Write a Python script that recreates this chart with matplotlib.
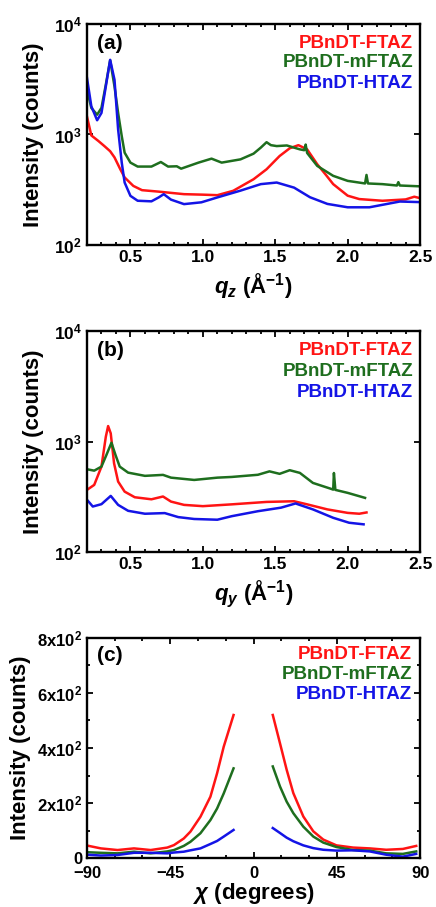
import numpy as np
import matplotlib
matplotlib.use('Agg')
import matplotlib.pyplot as plt
from matplotlib.ticker import MultipleLocator, NullLocator, FuncFormatter, LogLocator

RED = '#ff1414'
GREEN = '#1e6e1e'
BLUE = '#1414e6'
NAMES = ['PBnDT-FTAZ', 'PBnDT-mFTAZ', 'PBnDT-HTAZ']

# (a) out-of-plane line cuts
qz_ftaz = [0.20, 0.23, 0.28, 0.32, 0.36, 0.39, 0.43, 0.46, 0.52, 0.58, 0.69, 0.87, 1.00, 1.10,
           1.21, 1.35, 1.44, 1.53, 1.60, 1.66, 1.72, 1.79, 1.85, 1.90, 2.00, 2.08, 2.24, 2.40,
           2.46, 2.50]
i_ftaz_z = [1450, 980, 870, 785, 705, 620, 484, 408, 342, 313, 304, 288, 285, 282,
            309, 393, 484, 638, 750, 800, 733, 537, 430, 355, 279, 260, 251, 258,
            273, 265]

qz_mftaz = [0.20, 0.23, 0.27, 0.30, 0.33, 0.36, 0.39, 0.415, 0.44, 0.46, 0.50, 0.55, 0.645,
            0.71, 0.76, 0.82, 0.85, 0.97, 1.06, 1.13, 1.26, 1.35, 1.40, 1.44, 1.47, 1.51,
            1.58, 1.67, 1.70, 1.71, 1.72, 1.79, 1.90, 2.00, 2.12, 2.13, 2.14, 2.24, 2.34,
            2.35, 2.36, 2.50]
i_mftaz_z = [2540, 1740, 1510, 1740, 2820, 4700, 2720, 1567, 966, 684, 556, 512, 512,
             563, 512, 515, 490, 556, 604, 556, 595, 670, 760, 851, 800, 785,
             795, 733, 720, 810, 680, 519, 422, 380, 360, 430, 360, 355, 345,
             370, 345, 339]

qz_htaz = [0.20, 0.23, 0.27, 0.30, 0.33, 0.36, 0.39, 0.415, 0.44, 0.46, 0.50, 0.55, 0.645,
           0.695, 0.73, 0.78, 0.87, 0.99, 1.10, 1.26, 1.40, 1.51, 1.63, 1.74, 1.86, 2.00,
           2.15, 2.36, 2.50]
i_htaz_z = [3250, 1800, 1345, 1567, 2720, 4740, 3130, 1110, 556, 367, 278, 251, 248,
            269, 288, 257, 234, 243, 269, 310, 355, 367, 330, 270, 235, 219,
            219, 247, 244]

# (b) in-plane line cuts
qy_ftaz = [0.20, 0.25, 0.30, 0.33, 0.346, 0.364, 0.387, 0.415, 0.46, 0.53, 0.645, 0.725,
           0.78, 0.87, 1.00, 1.20, 1.44, 1.63, 1.72, 1.86, 2.00, 2.08, 2.13]
i_ftaz_y = [365, 405, 593, 1104, 1380, 1186, 635, 434, 352, 313, 300, 318,
            286, 267, 260, 270, 284, 288, 270, 243, 226, 222, 228]

qy_mftaz = [0.20, 0.25, 0.30, 0.334, 0.369, 0.397, 0.426, 0.484, 0.60, 0.725, 0.78, 0.94,
            1.10, 1.20, 1.38, 1.46, 1.53, 1.60, 1.67, 1.76, 1.88, 1.90, 1.905, 1.915,
            2.00, 2.12]
i_mftaz_y = [561, 545, 593, 755, 975, 755, 593, 523, 489, 499, 471, 449,
             471, 478, 500, 537, 510, 550, 520, 422, 375, 367, 519, 365,
             343, 309]

qy_htaz = [0.20, 0.24, 0.30, 0.364, 0.415, 0.484, 0.60, 0.737, 0.83, 0.94, 1.10, 1.20,
           1.38, 1.54, 1.64, 1.76, 1.90, 2.01, 2.11]
i_htaz_y = [297, 258, 271, 322, 267, 236, 222, 225, 207, 199, 196, 211,
            234, 252, 275, 243, 204, 184, 178]

# (c) pole figures, two branches around chi = 0
chi_left = [-89.7, -82.5, -73.5, -64.6, -55.6, -46.6, -43.0, -37.7, -34.1, -28.7, -23.3,
            -19.7, -16.1, -10.8]
chi_right = [10.4, 14.3, 17.9, 21.5, 26.9, 32.3, 37.7, 44.8, 53.8, 62.8, 71.7, 80.7, 87.9]

ftaz_left = [45, 35, 29, 35, 29, 38, 47, 71, 96, 150, 223, 308, 405, 520]
mftaz_left = [21, 19, 17, 23, 17, 24, 29, 44, 59, 90, 138, 180, 235, 326]
htaz_left = [12, 9, 11, 19, 19, 17, 20, 23, 28, 35, 51, 62, 78, 102]

ftaz_right = [520, 417, 321, 236, 151, 97, 67, 46, 38, 35, 30, 33, 44]
mftaz_right = [333, 260, 205, 163, 114, 78, 56, 40, 29, 27, 17, 15, 24]
htaz_right = [109, 91, 74, 61, 46, 36, 30, 27, 28, 24, 12, 5, 15]

plt.rcParams['font.family'] = ['Liberation Sans', 'DejaVu Sans']
plt.rcParams['font.weight'] = 'bold'
plt.rcParams['mathtext.fontset'] = 'custom'
plt.rcParams['mathtext.it'] = 'Liberation Sans:italic:bold'
plt.rcParams['mathtext.rm'] = 'Liberation Sans:bold'
plt.rcParams['mathtext.bf'] = 'Liberation Sans:bold'
plt.rcParams['axes.linewidth'] = 1.7

fig = plt.figure(figsize=(4.36, 9.07), dpi=100)
ax_a = fig.add_axes([0.1995, 0.730, 0.764, 0.2435])
ax_b = fig.add_axes([0.1995, 0.3914, 0.764, 0.2436])
ax_c = fig.add_axes([0.1995, 0.054, 0.764, 0.2426])


def style_axes(ax, labelsize=12.5, ylab_x=-0.128):
    ax.tick_params(which='both', direction='in', top=True, right=True,
                   labelsize=labelsize, width=1.3)
    ax.tick_params(which='major', length=4.5)
    ax.tick_params(which='minor', length=2.5)
    ax.set_ylabel('Intensity (counts)', fontsize=16, fontweight='bold')
    ax.yaxis.set_label_coords(ylab_x, 0.5)


def add_names(ax, ys, x=0.979):
    for name, col, y in zip(NAMES, [RED, GREEN, BLUE], ys):
        ax.text(x, y, name, color=col, fontsize=13.5, fontweight='bold',
                ha='right', va='center', transform=ax.transAxes)


lw = 1.8
for ax, data, lab, xl in [
    (ax_a, [(qz_ftaz, i_ftaz_z), (qz_mftaz, i_mftaz_z), (qz_htaz, i_htaz_z)], '(a)', r'$q_z$ (Å$^{-1}$)'),
    (ax_b, [(qy_ftaz, i_ftaz_y), (qy_mftaz, i_mftaz_y), (qy_htaz, i_htaz_y)], '(b)', r'$q_y$ (Å$^{-1}$)'),
]:
    for (x, y), col in zip(data, [RED, GREEN, BLUE]):
        ax.plot(x, y, color=col, lw=lw)
    ax.set_yscale('log')
    ax.set_ylim(100, 10000)
    ax.set_xlim(0.2, 2.5)
    ax.yaxis.set_major_locator(LogLocator(base=10, numticks=5))
    ax.yaxis.set_minor_locator(NullLocator())
    ax.xaxis.set_major_locator(MultipleLocator(0.5))
    ax.xaxis.set_minor_locator(MultipleLocator(0.1))
    ax.xaxis.set_major_formatter(FuncFormatter(lambda v, p: f'{v:.1f}'))
    style_axes(ax)
    ax.set_xlabel(xl, fontsize=16, fontweight='bold')
    ax.xaxis.set_label_coords(0.5, -0.12)
    ax.text(0.03, 0.91, lab, fontsize=15, fontweight='bold', ha='left', va='center',
            transform=ax.transAxes)

add_names(ax_a, [0.914, 0.824, 0.733])
add_names(ax_b, [0.914, 0.819, 0.724])

for x, y, col in [(chi_left, ftaz_left, RED), (chi_left, mftaz_left, GREEN), (chi_left, htaz_left, BLUE),
                  (chi_right, ftaz_right, RED), (chi_right, mftaz_right, GREEN), (chi_right, htaz_right, BLUE)]:
    ax_c.plot(x, y, color=col, lw=lw)
ax_c.set_xlim(-90, 90)
ax_c.set_ylim(0, 800)
ax_c.xaxis.set_major_locator(MultipleLocator(45))
ax_c.xaxis.set_minor_locator(MultipleLocator(15))
ax_c.yaxis.set_major_locator(MultipleLocator(200))
ax_c.yaxis.set_minor_locator(MultipleLocator(100))
ax_c.yaxis.set_major_formatter(FuncFormatter(lambda v, p: '0' if v == 0 else f'{v/100:.0f}x10$^2$'))
style_axes(ax_c, labelsize=12, ylab_x=-0.168)
ax_c.tick_params(axis='x', which='major', pad=6)
ax_c.set_xlabel(r'$\chi$ (degrees)', fontsize=16, fontweight='bold')
ax_c.xaxis.set_label_coords(0.5, -0.105)
ax_c.text(0.03, 0.92, '(c)', fontsize=15, fontweight='bold', ha='left', va='center',
          transform=ax_c.transAxes)
add_names(ax_c, [0.923, 0.832, 0.741], x=0.976)

fig.savefig('out.png', dpi=100)
